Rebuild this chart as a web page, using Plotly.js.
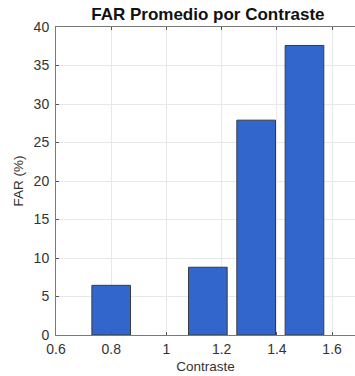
<!DOCTYPE html>
<html>
<head>
<meta charset="utf-8">
<script src="https://cdn.plot.ly/plotly-3.0.1.min.js"></script>
<style>html,body{margin:0;padding:0;background:#fff;}#chart{width:355px;height:376px;}</style>
</head>
<body>
<div id="chart"></div>
<script>
var contrastes = [0.8, 0.975, 1.15, 1.325, 1.5];
var farPromedio = [6.45, 0, 8.8, 27.9, 37.6];
var xTickVals = [0.6, 0.8, 1.0, 1.2, 1.4, 1.6];
var xTickText = ["0.6", "0.8", "1", "1.2", "1.4", "1.6"];
var yTickVals = [0, 5, 10, 15, 20, 25, 30, 35, 40];

var trace = {
  type: 'bar',
  x: contrastes,
  y: farPromedio,
  width: 0.14,
  marker: {
    color: 'rgb(51,102,204)',
    line: {color: '#3a3a3a', width: farPromedio.map(function (v) { return v > 0 ? 1 : 0; })}
  },
  hoverinfo: 'x+y'
};

var font = {family: 'Liberation Sans, Arial, sans-serif', size: 14, color: '#333333'};

var layout = {
  width: 355, height: 376,
  margin: {l: 56, r: 0, t: 27, b: 41, pad: 0},
  paper_bgcolor: '#ffffff', plot_bgcolor: '#ffffff',
  font: font,
  showlegend: false,
  bargap: 0,
  title: {
    text: '<b>FAR Promedio por Contraste</b>',
    font: {family: 'Liberation Sans, Arial, sans-serif', size: 17, color: '#111111'},
    xref: 'paper', x: 0.508, xanchor: 'center',
    yref: 'container', y: 0.962, yanchor: 'middle'
  },
  xaxis: {
    range: [0.6, 1.683],
    tickmode: 'array', tickvals: xTickVals, ticktext: xTickText,
    ticks: 'inside', ticklen: 3, tickcolor: '#555', tickwidth: 1,
    showline: true, linecolor: '#7a7a7a', linewidth: 1, mirror: 'ticks',
    showgrid: true, gridcolor: '#e8e8e8', gridwidth: 1,
    zeroline: false,
    tickfont: font,
    ticklabelstandoff: 1,
    title: {text: 'Contraste', font: {family: 'Liberation Sans, Arial, sans-serif', size: 13.5, color: '#333333'}, standoff: 5}
  },
  yaxis: {
    range: [0, 40],
    tickmode: 'array', tickvals: yTickVals,
    ticks: 'inside', ticklen: 3, tickcolor: '#555', tickwidth: 1,
    showline: true, linecolor: '#7a7a7a', linewidth: 1, mirror: false,
    showgrid: true, gridcolor: '#e8e8e8', gridwidth: 1,
    zeroline: false,
    tickfont: font,
    ticklabelstandoff: 3,
    title: {text: 'FAR (%)', font: {family: 'Liberation Sans, Arial, sans-serif', size: 13.5, color: '#333333'}, standoff: 6}
  }
};

Plotly.newPlot('chart', [trace], layout, {displayModeBar: false, staticPlot: true});
</script>
</body>
</html>
